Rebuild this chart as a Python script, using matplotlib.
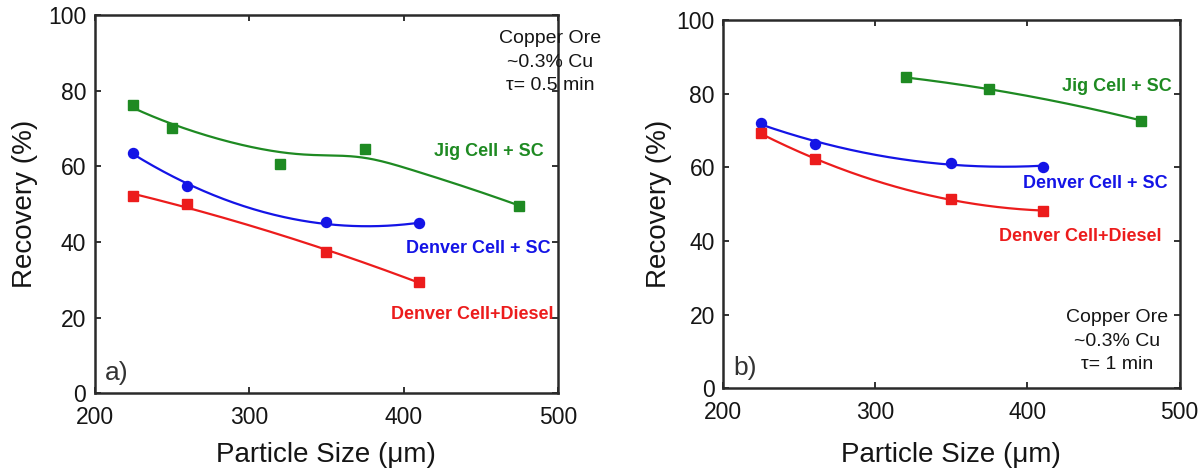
import numpy as np
import matplotlib
matplotlib.use("Agg")
import matplotlib.pyplot as plt

plt.rcParams['font.family'] = ['Liberation Sans', 'DejaVu Sans']

# ---- data: panel a (tau = 0.5 min) ----
a_jig_x = [225, 250, 320, 375, 475]
a_jig_y = [76.2, 70.0, 60.5, 64.6, 49.6]
a_dsc_x = [225, 260, 350, 410]
a_dsc_y = [63.6, 54.8, 45.2, 44.9]
a_dd_x = [225, 260, 350, 410]
a_dd_y = [52.2, 50.0, 37.3, 29.5]

# ---- data: panel b (tau = 1 min) ----
b_jig_x = [320, 375, 475]
b_jig_y = [84.4, 81.2, 72.7]
b_dsc_x = [225, 260, 350, 410]
b_dsc_y = [72.1, 66.3, 61.3, 60.2]
b_dd_x = [225, 260, 350, 410]
b_dd_y = [69.2, 62.2, 51.3, 48.2]

series_names = ["Jig Cell + SC", "Denver Cell + SC", "Denver Cell+Diesel"]
panel_notes = ["Copper Ore\n~0.3% Cu\nτ= 0.5 min", "Copper Ore\n~0.3% Cu\nτ= 1 min"]
panel_tags = ["a)", "b)"]
xticks = [200, 300, 400, 500]
yticks = [0, 20, 40, 60, 80, 100]

GREEN = "#1e8a22"
BLUE = "#1414e6"
RED = "#ec1c1c"
TXT = "#151515"

fig = plt.figure(figsize=(12.04, 4.76), dpi=100)
axA = fig.add_axes([94.5/1204, 1-393.3/476, 463.5/1204, 378.3/476])
axB = fig.add_axes([723.3/1204, 1-388.3/476, 456.2/1204, 368.3/476])


def poly_curve(x, y, deg):
    c = np.polyfit(x, y, deg)
    xs = np.linspace(min(x), max(x), 200)
    return xs, np.polyval(c, xs)


def smooth_curve(x, y, h):
    # local linear (gaussian-weighted) smoothing of the data points
    x = np.asarray(x, float)
    y = np.asarray(y, float)
    xs = np.linspace(x.min(), x.max(), 200)
    ys = []
    for x0 in xs:
        w = np.exp(-0.5 * ((x - x0) / h) ** 2)
        W = np.diag(w)
        A = np.vstack([np.ones_like(x), x - x0]).T
        beta = np.linalg.solve(A.T @ W @ A, A.T @ W @ y)
        ys.append(beta[0])
    return xs, np.array(ys)


def draw(ax, x, y, curve, color, marker, ms):
    xs, ys = curve
    ax.plot(xs, ys, color=color, lw=1.6, zorder=2)
    ax.plot(x, y, linestyle='none', marker=marker, color=color, ms=ms, zorder=3)


def style(ax, ylab_x, xlab_y):
    ax.set_xlim(200, 500)
    ax.set_ylim(0, 100)
    ax.set_xticks(xticks)
    ax.set_yticks(yticks)
    ax.tick_params(direction='in', top=True, right=True, length=4, width=1.3,
                   labelsize=16.5, pad=6, color='#222222', labelcolor=TXT)
    ax.tick_params(axis='x', pad=9)
    for s in ax.spines.values():
        s.set_linewidth(1.8)
        s.set_color('#2a2a2a')
    ax.set_xlabel("Particle Size (μm)", fontsize=20, color=TXT)
    ax.set_ylabel("Recovery (%)", fontsize=20, color=TXT)
    ax.yaxis.set_label_coords(ylab_x, 0.5)
    ax.xaxis.set_label_coords(0.5, xlab_y)


# panel a
draw(axA, a_jig_x, a_jig_y, smooth_curve(a_jig_x, a_jig_y, 45), GREEN, 's', 6.8)
draw(axA, a_dsc_x, a_dsc_y, poly_curve(a_dsc_x, a_dsc_y, 2), BLUE, 'o', 7.2)
draw(axA, a_dd_x, a_dd_y, poly_curve(a_dd_x, a_dd_y, 2), RED, 's', 6.8)
style(axA, -0.122, -0.128)
axA.text(490.7, 63.9, series_names[0], color=GREEN, fontsize=13, fontweight='bold', ha='right', va='center')
axA.text(495.2, 38.3, series_names[1], color=BLUE, fontsize=13, fontweight='bold', ha='right', va='center')
axA.text(497.3, 20.7, series_names[2], color=RED, fontsize=13, fontweight='bold', ha='right', va='center')
axA.text(495.0, 96.0, panel_notes[0], fontsize=14, ha='center', va='top', linespacing=1.5, color=TXT)
axA.text(206.5, 3.5, panel_tags[0], fontsize=19, ha='left', va='baseline', color='#333333')

# panel b
draw(axB, b_jig_x, b_jig_y, poly_curve(b_jig_x, b_jig_y, 2), GREEN, 's', 6.8)
draw(axB, b_dsc_x, b_dsc_y, poly_curve(b_dsc_x, b_dsc_y, 2), BLUE, 'o', 7.2)
draw(axB, b_dd_x, b_dd_y, poly_curve(b_dd_x, b_dd_y, 2), RED, 's', 6.8)
style(axB, -0.112, -0.147)
axB.text(494.6, 81.9, series_names[0], color=GREEN, fontsize=13, fontweight='bold', ha='right', va='center')
axB.text(492.4, 55.5, series_names[1], color=BLUE, fontsize=13, fontweight='bold', ha='right', va='center')
axB.text(488.4, 41.2, series_names[2], color=RED, fontsize=13, fontweight='bold', ha='right', va='center')
axB.text(459.0, 21.5, panel_notes[1], fontsize=14, ha='center', va='top', linespacing=1.5, color=TXT)
axB.text(206.5, 3.5, panel_tags[1], fontsize=19, ha='left', va='baseline', color='#333333')

fig.savefig("out.png", dpi=100)
